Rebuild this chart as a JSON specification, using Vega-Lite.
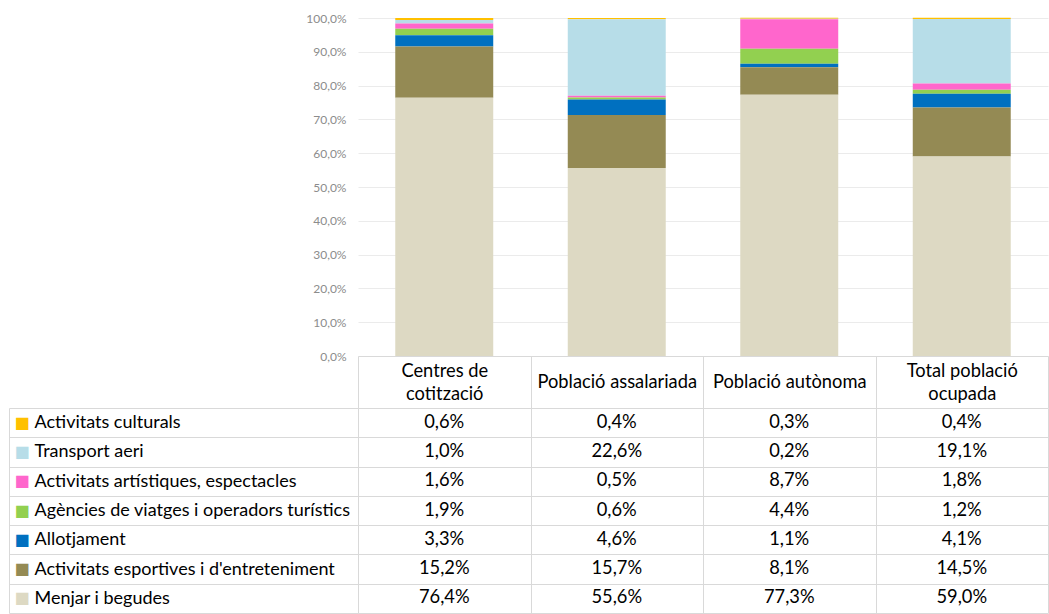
{
  "$schema": "https://vega.github.io/schema/vega-lite/v6.json",
  "padding": {"left": 8, "top": 12, "right": 0, "bottom": 0},
  "background": "white",
  "config": {
    "view": {"stroke": null},
    "font": "Lato",
    "locale": {"number": {"decimal": ",", "thousands": ".", "grouping": [3], "currency": ["", " €"]}}
  },
  "data": {
    "values": [
      {"series": "Activitats culturals", "stack_rank": 7, "category": "Centres de cotització", "value": 0.006},
      {"series": "Activitats culturals", "stack_rank": 7, "category": "Població assalariada", "value": 0.004},
      {"series": "Activitats culturals", "stack_rank": 7, "category": "Població autònoma", "value": 0.003},
      {"series": "Activitats culturals", "stack_rank": 7, "category": "Total població ocupada", "value": 0.004},
      {"series": "Transport aeri", "stack_rank": 6, "category": "Centres de cotització", "value": 0.010},
      {"series": "Transport aeri", "stack_rank": 6, "category": "Població assalariada", "value": 0.226},
      {"series": "Transport aeri", "stack_rank": 6, "category": "Població autònoma", "value": 0.002},
      {"series": "Transport aeri", "stack_rank": 6, "category": "Total població ocupada", "value": 0.191},
      {"series": "Activitats artístiques, espectacles", "stack_rank": 5, "category": "Centres de cotització", "value": 0.016},
      {"series": "Activitats artístiques, espectacles", "stack_rank": 5, "category": "Població assalariada", "value": 0.005},
      {"series": "Activitats artístiques, espectacles", "stack_rank": 5, "category": "Població autònoma", "value": 0.087},
      {"series": "Activitats artístiques, espectacles", "stack_rank": 5, "category": "Total població ocupada", "value": 0.018},
      {"series": "Agències de viatges i operadors turístics", "stack_rank": 4, "category": "Centres de cotització", "value": 0.019},
      {"series": "Agències de viatges i operadors turístics", "stack_rank": 4, "category": "Població assalariada", "value": 0.006},
      {"series": "Agències de viatges i operadors turístics", "stack_rank": 4, "category": "Població autònoma", "value": 0.044},
      {"series": "Agències de viatges i operadors turístics", "stack_rank": 4, "category": "Total població ocupada", "value": 0.012},
      {"series": "Allotjament", "stack_rank": 3, "category": "Centres de cotització", "value": 0.033},
      {"series": "Allotjament", "stack_rank": 3, "category": "Població assalariada", "value": 0.046},
      {"series": "Allotjament", "stack_rank": 3, "category": "Població autònoma", "value": 0.011},
      {"series": "Allotjament", "stack_rank": 3, "category": "Total població ocupada", "value": 0.041},
      {"series": "Activitats esportives i d'entreteniment", "stack_rank": 2, "category": "Centres de cotització", "value": 0.152},
      {"series": "Activitats esportives i d'entreteniment", "stack_rank": 2, "category": "Població assalariada", "value": 0.157},
      {"series": "Activitats esportives i d'entreteniment", "stack_rank": 2, "category": "Població autònoma", "value": 0.081},
      {"series": "Activitats esportives i d'entreteniment", "stack_rank": 2, "category": "Total població ocupada", "value": 0.145},
      {"series": "Menjar i begudes", "stack_rank": 1, "category": "Centres de cotització", "value": 0.764},
      {"series": "Menjar i begudes", "stack_rank": 1, "category": "Població assalariada", "value": 0.556},
      {"series": "Menjar i begudes", "stack_rank": 1, "category": "Població autònoma", "value": 0.773},
      {"series": "Menjar i begudes", "stack_rank": 1, "category": "Total població ocupada", "value": 0.590}
    ]
  },
  "bounds": "flush",
  "spacing": 52,
  "vconcat": [
    {
      "width": 690,
      "height": 338,
      "mark": {"type": "bar", "width": {"band": 0.568}},
      "encoding": {
        "x": {
          "field": "category", "type": "nominal",
          "sort": ["Centres de cotització", "Població assalariada", "Població autònoma", "Total població ocupada"],
          "scale": {"paddingInner": 0, "paddingOuter": 0},
          "axis": {
            "title": null, "orient": "bottom", "domainColor": "#d9d9d9", "tickColor": "#d9d9d9",
            "tickBand": "extent", "tickSize": 52, "labelPadding": -26, "labelBaseline": "middle",
            "labelFontSize": 18.3, "labelColor": "#000000", "labelLimit": 0, "labelAngle": 0,
            "labelExpr": "datum.label === 'Població assalariada' || datum.label === 'Població autònoma' ? datum.label : ''"
          }
        },
        "y": {
          "field": "value", "type": "quantitative", "stack": "zero",
          "scale": {"domain": [0, 1]},
          "axis": {
            "title": null, "values": [0, 0.1, 0.2, 0.3, 0.4, 0.5, 0.6, 0.7, 0.8, 0.9, 1],
            "format": ".1%", "grid": true, "gridColor": "#ebebeb", "domain": false, "ticks": false,
            "labelPadding": 12, "labelColor": "#8c8c8c", "labelFontSize": 12
          }
        },
        "color": {
          "field": "series", "type": "nominal",
          "scale": {
            "domain": ["Activitats culturals", "Transport aeri", "Activitats artístiques, espectacles", "Agències de viatges i operadors turístics", "Allotjament", "Activitats esportives i d'entreteniment", "Menjar i begudes"],
            "range": ["#ffc000", "#b7dde8", "#ff66cc", "#92d050", "#0070c0", "#948a54", "#ddd9c3"]
          },
          "legend": null
        },
        "order": {"field": "stack_rank", "type": "quantitative", "sort": "ascending"}
      }
    },
    {
      "width": 690,
      "height": 205,
      "resolve": {"axis": {"y": "independent"}},
      "layer": [
        {
          "mark": {"type": "rect", "fill": "white"},
          "encoding": {
            "x": {
              "field": "category", "type": "nominal",
              "sort": ["Centres de cotització", "Població assalariada", "Població autònoma", "Total població ocupada"],
              "scale": {"paddingInner": 0, "paddingOuter": 0},
              "axis": {
                "orient": "top", "title": null, "grid": true, "gridColor": "#d9d9d9", "tickBand": "extent",
                "ticks": false, "domain": false, "zindex": 1,
                "labelPadding": 37, "labelBaseline": "middle", "labelFontSize": 18.3, "labelColor": "#000000",
                "labelLineHeight": 23, "labelLimit": 0, "labelAngle": 0,
                "labelExpr": "datum.label === 'Centres de cotització' ? ['Centres de', 'cotització'] : datum.label === 'Total població ocupada' ? ['Total població', 'ocupada'] : ''"
              }
            },
            "y": {
              "field": "series", "type": "nominal",
              "sort": ["Activitats culturals", "Transport aeri", "Activitats artístiques, espectacles", "Agències de viatges i operadors turístics", "Allotjament", "Activitats esportives i d'entreteniment", "Menjar i begudes"],
              "scale": {"paddingInner": 0, "paddingOuter": 0},
              "axis": {
                "orient": "left", "offset": 349, "title": null, "grid": false, "ticks": false,
                "domain": true, "domainColor": "#d9d9d9", "labelExpr": "'■'", "labelAlign": "left",
                "labelPadding": -5, "labelFont": "DejaVu Sans", "labelFontSize": 16, "zindex": 1,
                "labelColor": {
                  "condition": [
                    {"test": "datum.value === 'Activitats culturals'", "value": "#ffc000"},
                    {"test": "datum.value === 'Transport aeri'", "value": "#b7dde8"},
                    {"test": "datum.value === 'Activitats artístiques, espectacles'", "value": "#ff66cc"},
                    {"test": "datum.value === 'Agències de viatges i operadors turístics'", "value": "#92d050"},
                    {"test": "datum.value === 'Allotjament'", "value": "#0070c0"},
                    {"test": "indexof(datum.value, 'esportives') >= 0", "value": "#948a54"}
                  ],
                  "value": "#ddd9c3"
                }
              }
            }
          }
        },
        {
          "mark": {"type": "text", "fontSize": 18.3, "color": "#000000"},
          "encoding": {
            "x": {
              "field": "category", "type": "nominal",
              "sort": ["Centres de cotització", "Població assalariada", "Població autònoma", "Total població ocupada"],
              "scale": {"paddingInner": 0, "paddingOuter": 0},
              "axis": {
                "orient": "top", "title": null, "grid": true, "gridColor": "#d9d9d9", "tickBand": "extent",
                "ticks": false, "domain": false, "zindex": 1,
                "labelPadding": 37, "labelBaseline": "middle", "labelFontSize": 18.3, "labelColor": "#000000",
                "labelLineHeight": 23, "labelLimit": 0, "labelAngle": 0,
                "labelExpr": "datum.label === 'Centres de cotització' ? ['Centres de', 'cotització'] : datum.label === 'Total població ocupada' ? ['Total població', 'ocupada'] : ''"
              }
            },
            "y": {
              "field": "series", "type": "nominal",
              "sort": ["Activitats culturals", "Transport aeri", "Activitats artístiques, espectacles", "Agències de viatges i operadors turístics", "Allotjament", "Activitats esportives i d'entreteniment", "Menjar i begudes"],
              "scale": {"paddingInner": 0, "paddingOuter": 0},
              "axis": {
                "orient": "left", "title": null, "grid": true, "gridColor": "#d9d9d9", "tickBand": "extent",
                "tickSize": 349, "tickColor": "#d9d9d9", "domain": true, "domainColor": "#d9d9d9",
                "labelAlign": "left", "labelPadding": -25, "labelFontSize": 18, "labelColor": "#000000",
                "labelLimit": 0, "zindex": 1
              }
            },
            "text": {"field": "value", "type": "quantitative", "format": ".1%"}
          }
        }
      ]
    }
  ]
}
